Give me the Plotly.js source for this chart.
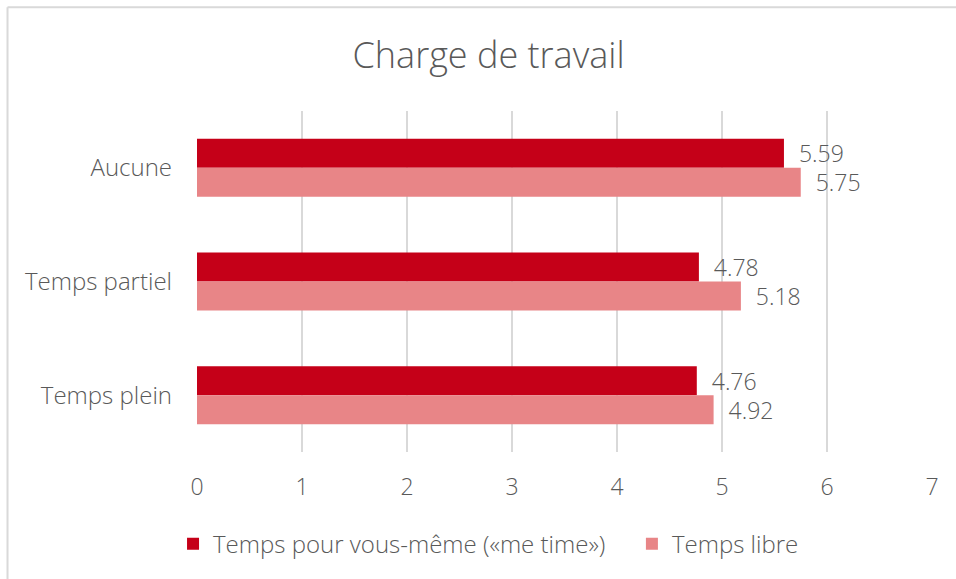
<!DOCTYPE html>
<html>
<head>
<meta charset="utf-8">
<script src="https://cdn.plot.ly/plotly-3.0.1.min.js"></script>
<style>html,body{margin:0;padding:0;background:#fff;}#chart{width:956px;height:579px;}</style>
</head>
<body>
<div id="chart"></div>
<script>
const categories = ["Aucune", "Temps partiel", "Temps plein"];
const seriesNames = ["Temps pour vous-même («me time»)", "Temps libre"];
const meTime = [5.59, 4.78, 4.76];
const tempsLibre = [5.75, 5.18, 4.92];
const xTicks = [0, 1, 2, 3, 4, 5, 6, 7];

const FONT = "Open Sans, sans-serif";
const GREY = "#595959";
const PAD = "\u00a0\u00a0";

const traces = [
  {
    type: "bar", orientation: "h", name: seriesNames[0], legend: "legend",
    y: categories, x: meTime,
    marker: {color: "#C50018"},
    text: meTime.map(v => PAD + v.toFixed(2)), textposition: "outside", constraintext: "none",
    textfont: {family: FONT, size: 23, color: GREY, weight: 300},
    cliponaxis: false, hoverinfo: "x+y"
  },
  {
    type: "bar", orientation: "h", name: seriesNames[1], legend: "legend2",
    y: categories, x: tempsLibre,
    marker: {color: "#E88587"},
    text: tempsLibre.map(v => PAD + v.toFixed(2)), textposition: "outside", constraintext: "none",
    textfont: {family: FONT, size: 23, color: GREY, weight: 300},
    cliponaxis: false, hoverinfo: "x+y"
  }
];

const legendBase = {orientation: "h", xref: "container", xanchor: "left", yref: "container", y: 0.06, yanchor: "middle",
                    font: {family: FONT, size: 24, color: GREY, weight: 300}, itemwidth: 30, bgcolor: "rgba(0,0,0,0)"};

const layout = {
  width: 956, height: 579,
  paper_bgcolor: "#fff", plot_bgcolor: "#fff",
  margin: {l: 197, r: 24, t: 111, b: 127},
  font: {family: FONT, color: GREY, size: 23, weight: 300},
  title: {text: "Charge de travail", font: {family: FONT, size: 36, color: GREY, weight: 300},
          xref: "container", x: 0.511, xanchor: "center", yref: "container", y: 0.905, yanchor: "middle"},
  barmode: "group", bargap: 0.49, bargroupgap: 0,
  xaxis: {range: [0, 7], tickvals: xTicks, showgrid: true, gridcolor: "#d9d9d9", gridwidth: 2,
          zeroline: false, showline: false, ticks: "", ticklabelstandoff: 19,
          tickfont: {family: FONT, size: 23, color: GREY, weight: 300}, fixedrange: true},
  yaxis: {autorange: "reversed", type: "category", categoryorder: "array", categoryarray: categories,
          showgrid: false, zeroline: false, showline: false, ticks: "", ticklabelstandoff: 24,
          tickfont: {family: FONT, size: 24, color: GREY, weight: 300}, fixedrange: true},
  showlegend: true,
  legend: Object.assign({}, legendBase, {x: 0.181}),
  legend2: Object.assign({}, legendBase, {x: 0.661}),
  shapes: [
    {type: "line", xref: "paper", yref: "paper", x0: -0.2578, x1: -0.2578, y0: -0.5, y1: 1.304, line: {color: "#d9d9d9", width: 2}},
    {type: "line", xref: "paper", yref: "paper", x0: -0.2578, x1: 1.1, y0: 1.304, y1: 1.304, line: {color: "#d9d9d9", width: 2}}
  ]
};

Plotly.newPlot("chart", traces, layout, {displayModeBar: false, staticPlot: true});
</script>
</body>
</html>
